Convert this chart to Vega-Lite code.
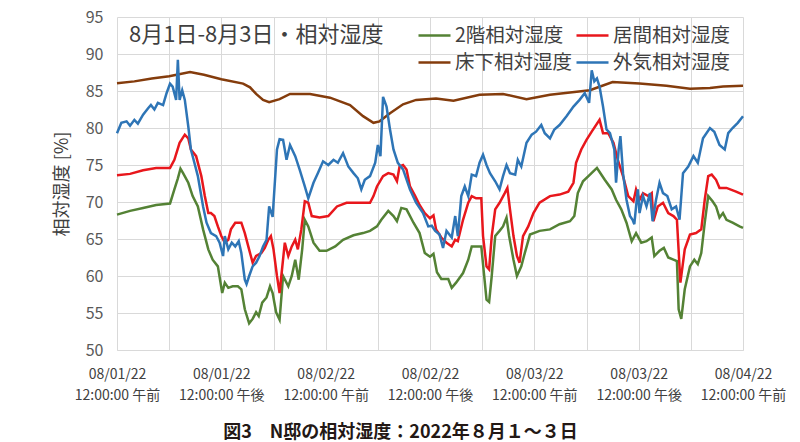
{
"$schema": "https://vega.github.io/schema/vega-lite/v6.json",
"autosize": "none",
"width": 626,
"height": 333,
"padding": {"left": 117, "top": 17, "right": 57, "bottom": 92},
"background": "white",
"config": {"font": "Noto Sans CJK JP", "view": {"stroke": null}},
"title": {"text": "8月1日-8月3日・相対湿度", "anchor": "start", "frame": "group", "orient": "top", "baseline": "middle", "offset": -19, "dy": 29, "dx": 12, "fontSize": 22, "fontWeight": "normal", "color": "#404040"},
"data": {"values": [
{"t":0,"s":"2階相対湿度","v":68.3},{"t":1.5,"s":"2階相対湿度","v":68.8},{"t":3,"s":"2階相対湿度","v":69.2},{"t":4.5,"s":"2階相対湿度","v":69.6},{"t":6.1,"s":"2階相対湿度","v":69.8},{"t":6.6,"s":"2階相対湿度","v":71.7},{"t":7.0,"s":"2階相対湿度","v":73.2},{"t":7.3,"s":"2階相対湿度","v":74.5},{"t":7.6,"s":"2階相対湿度","v":73.9},{"t":8.2,"s":"2階相対湿度","v":72.6},{"t":8.7,"s":"2階相対湿度","v":70.8},{"t":9.3,"s":"2階相対湿度","v":69.4},{"t":9.9,"s":"2階相対湿度","v":66.3},{"t":10.5,"s":"2階相対湿度","v":63.6},{"t":11.0,"s":"2階相対湿度","v":62.2},{"t":11.6,"s":"2階相対湿度","v":61.3},{"t":12.1,"s":"2階相対湿度","v":57.7},{"t":12.4,"s":"2階相対湿度","v":59.1},{"t":12.8,"s":"2階相対湿度","v":58.4},{"t":13.3,"s":"2階相対湿度","v":58.6},{"t":13.9,"s":"2階相対湿度","v":58.6},{"t":14.3,"s":"2階相対湿度","v":58.2},{"t":14.7,"s":"2階相対湿度","v":55.5},{"t":15.2,"s":"2階相対湿度","v":53.6},{"t":15.6,"s":"2階相対湿度","v":54.2},{"t":16.0,"s":"2階相対湿度","v":55.1},{"t":16.3,"s":"2階相対湿度","v":54.6},{"t":16.7,"s":"2階相対湿度","v":56.4},{"t":17.2,"s":"2階相対湿度","v":57.1},{"t":17.6,"s":"2階相対湿度","v":58.6},{"t":17.9,"s":"2階相対湿度","v":57.7},{"t":18.3,"s":"2階相対湿度","v":55.1},{"t":18.7,"s":"2階相対湿度","v":54.1},{"t":19.1,"s":"2階相対湿度","v":60.0},{"t":19.7,"s":"2階相対湿度","v":58.6},{"t":20.1,"s":"2階相対湿度","v":60.0},{"t":20.5,"s":"2階相対湿度","v":62.2},{"t":20.9,"s":"2階相対湿度","v":59.5},{"t":21.3,"s":"2階相対湿度","v":63.6},{"t":21.6,"s":"2階相対湿度","v":67.6},{"t":22.0,"s":"2階相対湿度","v":66.7},{"t":22.6,"s":"2階相対湿度","v":64.5},{"t":23.3,"s":"2階相対湿度","v":63.4},{"t":24.1,"s":"2階相対湿度","v":63.4},{"t":25.1,"s":"2階相対湿度","v":64.0},{"t":26.0,"s":"2階相対湿度","v":64.9},{"t":27.2,"s":"2階相対湿度","v":65.5},{"t":28.3,"s":"2階相対湿度","v":65.8},{"t":29.1,"s":"2階相対湿度","v":66.1},{"t":29.9,"s":"2階相対湿度","v":66.7},{"t":30.4,"s":"2階相対湿度","v":67.6},{"t":31.2,"s":"2階相対湿度","v":68.8},{"t":31.8,"s":"2階相対湿度","v":68.1},{"t":32.2,"s":"2階相対湿度","v":67.4},{"t":32.7,"s":"2階相対湿度","v":69.2},{"t":33.3,"s":"2階相対湿度","v":69.0},{"t":34.1,"s":"2階相対湿度","v":67.2},{"t":34.8,"s":"2階相対湿度","v":65.8},{"t":35.4,"s":"2階相対湿度","v":63.1},{"t":36.0,"s":"2階相対湿度","v":62.6},{"t":36.4,"s":"2階相対湿度","v":63.0},{"t":36.8,"s":"2階相対湿度","v":60.5},{"t":37.3,"s":"2階相対湿度","v":59.6},{"t":38.1,"s":"2階相対湿度","v":59.6},{"t":38.5,"s":"2階相対湿度","v":58.4},{"t":39.0,"s":"2階相対湿度","v":59.1},{"t":39.8,"s":"2階相対湿度","v":60.4},{"t":40.4,"s":"2階相対湿度","v":62.2},{"t":40.8,"s":"2階相対湿度","v":64.0},{"t":41.3,"s":"2階相対湿度","v":64.0},{"t":41.9,"s":"2階相対湿度","v":64.0},{"t":42.2,"s":"2階相対湿度","v":60.4},{"t":42.5,"s":"2階相対湿度","v":56.8},{"t":42.8,"s":"2階相対湿度","v":56.5},{"t":43.1,"s":"2階相対湿度","v":60.0},{"t":43.5,"s":"2階相対湿度","v":65.4},{"t":44.0,"s":"2階相対湿度","v":66.1},{"t":44.4,"s":"2階相対湿度","v":66.7},{"t":44.8,"s":"2階相対湿度","v":67.9},{"t":45.1,"s":"2階相対湿度","v":65.4},{"t":45.6,"s":"2階相対湿度","v":62.2},{"t":46.0,"s":"2階相対湿度","v":60.0},{"t":46.5,"s":"2階相対湿度","v":61.3},{"t":46.9,"s":"2階相対湿度","v":63.1},{"t":47.5,"s":"2階相対湿度","v":65.6},{"t":48.6,"s":"2階相対湿度","v":66.1},{"t":49.8,"s":"2階相対湿度","v":66.3},{"t":50.9,"s":"2階相対湿度","v":67.0},{"t":52.1,"s":"2階相対湿度","v":67.4},{"t":52.6,"s":"2階相対湿度","v":68.1},{"t":53.0,"s":"2階相対湿度","v":71.2},{"t":53.6,"s":"2階相対湿度","v":72.8},{"t":54.4,"s":"2階相対湿度","v":73.7},{"t":55.2,"s":"2階相対湿度","v":74.6},{"t":56.1,"s":"2階相対湿度","v":73.0},{"t":56.9,"s":"2階相対湿度","v":71.7},{"t":57.4,"s":"2階相対湿度","v":70.3},{"t":58.0,"s":"2階相対湿度","v":69.0},{"t":58.6,"s":"2階相対湿度","v":67.2},{"t":59.2,"s":"2階相対湿度","v":64.7},{"t":59.7,"s":"2階相対湿度","v":65.8},{"t":60.3,"s":"2階相対湿度","v":64.5},{"t":60.9,"s":"2階相対湿度","v":64.7},{"t":61.5,"s":"2階相対湿度","v":65.2},{"t":61.8,"s":"2階相対湿度","v":62.7},{"t":62.4,"s":"2階相対湿度","v":63.4},{"t":62.9,"s":"2階相対湿度","v":63.8},{"t":63.4,"s":"2階相対湿度","v":62.5},{"t":64.0,"s":"2階相対湿度","v":62.2},{"t":64.4,"s":"2階相対湿度","v":62.0},{"t":64.6,"s":"2階相対湿度","v":55.5},{"t":64.9,"s":"2階相対湿度","v":54.2},{"t":65.3,"s":"2階相対湿度","v":58.2},{"t":65.9,"s":"2階相対湿度","v":61.3},{"t":66.4,"s":"2階相対湿度","v":62.2},{"t":66.8,"s":"2階相対湿度","v":61.6},{"t":67.2,"s":"2階相対湿度","v":63.1},{"t":67.6,"s":"2階相対湿度","v":67.2},{"t":68.0,"s":"2階相対湿度","v":70.8},{"t":68.5,"s":"2階相対湿度","v":70.1},{"t":68.9,"s":"2階相対湿度","v":69.4},{"t":69.3,"s":"2階相対湿度","v":67.9},{"t":69.7,"s":"2階相対湿度","v":68.5},{"t":70.1,"s":"2階相対湿度","v":67.6},{"t":70.8,"s":"2階相対湿度","v":67.2},{"t":71.6,"s":"2階相対湿度","v":66.7},{"t":72.0,"s":"2階相対湿度","v":66.5},
{"t":0,"s":"居間相対湿度","v":73.6},{"t":1.5,"s":"居間相対湿度","v":73.8},{"t":3,"s":"居間相対湿度","v":74.3},{"t":4.5,"s":"居間相対湿度","v":74.6},{"t":6.1,"s":"居間相対湿度","v":74.6},{"t":6.6,"s":"居間相対湿度","v":75.7},{"t":7.2,"s":"居間相対湿度","v":78.0},{"t":7.8,"s":"居間相対湿度","v":79.1},{"t":8.2,"s":"居間相対湿度","v":78.6},{"t":8.5,"s":"居間相対湿度","v":77.1},{"t":9.1,"s":"居間相対湿度","v":76.2},{"t":9.7,"s":"居間相対湿度","v":73.5},{"t":10.1,"s":"居間相対湿度","v":70.8},{"t":10.5,"s":"居間相対湿度","v":68.5},{"t":10.8,"s":"居間相対湿度","v":68.5},{"t":11.2,"s":"居間相対湿度","v":68.1},{"t":11.6,"s":"居間相対湿度","v":66.7},{"t":12.0,"s":"居間相対湿度","v":65.4},{"t":12.4,"s":"居間相対湿度","v":64.5},{"t":12.8,"s":"居間相対湿度","v":64.9},{"t":13.1,"s":"居間相対湿度","v":66.3},{"t":13.6,"s":"居間相対湿度","v":67.2},{"t":14.3,"s":"居間相対湿度","v":67.2},{"t":14.7,"s":"居間相対湿度","v":65.8},{"t":15.1,"s":"居間相対湿度","v":64.0},{"t":15.6,"s":"居間相対湿度","v":61.8},{"t":16.0,"s":"居間相対湿度","v":62.7},{"t":16.6,"s":"居間相対湿度","v":63.1},{"t":17.0,"s":"居間相対湿度","v":63.8},{"t":17.4,"s":"居間相対湿度","v":64.9},{"t":17.7,"s":"居間相対湿度","v":65.4},{"t":18.0,"s":"居間相対湿度","v":63.6},{"t":18.4,"s":"居間相対湿度","v":60.0},{"t":18.7,"s":"居間相対湿度","v":57.7},{"t":18.9,"s":"居間相対湿度","v":60.0},{"t":19.3,"s":"居間相対湿度","v":64.5},{"t":19.7,"s":"居間相対湿度","v":62.7},{"t":20.1,"s":"居間相対湿度","v":64.0},{"t":20.5,"s":"居間相対湿度","v":64.9},{"t":20.8,"s":"居間相対湿度","v":63.6},{"t":21.2,"s":"居間相対湿度","v":66.3},{"t":21.6,"s":"居間相対湿度","v":70.1},{"t":22.0,"s":"居間相対湿度","v":69.9},{"t":22.4,"s":"居間相対湿度","v":68.1},{"t":23.3,"s":"居間相対湿度","v":67.9},{"t":24.3,"s":"居間相対湿度","v":68.1},{"t":25.3,"s":"居間相対湿度","v":69.4},{"t":26.4,"s":"居間相対湿度","v":69.9},{"t":27.6,"s":"居間相対湿度","v":69.9},{"t":29.1,"s":"居間相対湿度","v":69.9},{"t":29.5,"s":"居間相対湿度","v":70.8},{"t":29.9,"s":"居間相対湿度","v":72.1},{"t":30.6,"s":"居間相対湿度","v":73.5},{"t":31.2,"s":"居間相対湿度","v":73.9},{"t":31.8,"s":"居間相対湿度","v":73.7},{"t":32.2,"s":"居間相対湿度","v":72.8},{"t":32.5,"s":"居間相対湿度","v":74.8},{"t":32.9,"s":"居間相対湿度","v":75.0},{"t":33.3,"s":"居間相対湿度","v":74.4},{"t":33.7,"s":"居間相対湿度","v":72.1},{"t":34.3,"s":"居間相対湿度","v":70.8},{"t":34.8,"s":"居間相対湿度","v":69.6},{"t":35.4,"s":"居間相対湿度","v":68.5},{"t":36.0,"s":"居間相対湿度","v":67.8},{"t":36.4,"s":"居間相対湿度","v":68.2},{"t":36.7,"s":"居間相対湿度","v":66.3},{"t":37.3,"s":"居間相対湿度","v":65.2},{"t":37.9,"s":"居間相対湿度","v":64.5},{"t":38.5,"s":"居間相対湿度","v":64.0},{"t":38.9,"s":"居間相対湿度","v":64.9},{"t":39.2,"s":"居間相対湿度","v":64.7},{"t":39.8,"s":"居間相対湿度","v":67.6},{"t":40.4,"s":"居間相対湿度","v":69.9},{"t":40.8,"s":"居間相対湿度","v":70.8},{"t":41.3,"s":"居間相対湿度","v":70.5},{"t":41.9,"s":"居間相対湿度","v":70.5},{"t":42.1,"s":"居間相対湿度","v":65.4},{"t":42.5,"s":"居間相対湿度","v":61.3},{"t":42.8,"s":"居間相対湿度","v":60.9},{"t":43.1,"s":"居間相対湿度","v":65.4},{"t":43.5,"s":"居間相対湿度","v":69.0},{"t":44.0,"s":"居間相対湿度","v":69.9},{"t":44.6,"s":"居間相対湿度","v":71.2},{"t":44.9,"s":"居間相対湿度","v":71.9},{"t":45.2,"s":"居間相対湿度","v":69.0},{"t":45.6,"s":"居間相対湿度","v":65.4},{"t":46.0,"s":"居間相対湿度","v":62.7},{"t":46.3,"s":"居間相対湿度","v":61.8},{"t":46.7,"s":"居間相対湿度","v":65.4},{"t":47.3,"s":"居間相対湿度","v":66.7},{"t":47.9,"s":"居間相対湿度","v":68.5},{"t":48.6,"s":"居間相対湿度","v":69.9},{"t":49.8,"s":"居間相対湿度","v":70.8},{"t":50.9,"s":"居間相対湿度","v":71.0},{"t":51.9,"s":"居間相対湿度","v":71.4},{"t":52.5,"s":"居間相対湿度","v":72.6},{"t":52.8,"s":"居間相対湿度","v":75.3},{"t":53.4,"s":"居間相対湿度","v":77.1},{"t":54.0,"s":"居間相対湿度","v":78.4},{"t":54.6,"s":"居間相対湿度","v":79.5},{"t":55.5,"s":"居間相対湿度","v":81.1},{"t":55.9,"s":"居間相対湿度","v":79.3},{"t":56.5,"s":"居間相対湿度","v":79.3},{"t":57.1,"s":"居間相対湿度","v":78.0},{"t":57.6,"s":"居間相対湿度","v":75.7},{"t":58.2,"s":"居間相対湿度","v":73.5},{"t":58.8,"s":"居間相対湿度","v":70.8},{"t":59.4,"s":"居間相対湿度","v":70.1},{"t":59.7,"s":"居間相対湿度","v":71.7},{"t":60.1,"s":"居間相対湿度","v":70.3},{"t":60.5,"s":"居間相対湿度","v":71.2},{"t":61.1,"s":"居間相対湿度","v":70.8},{"t":61.5,"s":"居間相対湿度","v":71.2},{"t":61.7,"s":"居間相対湿度","v":67.4},{"t":62.2,"s":"居間相対湿度","v":69.4},{"t":62.8,"s":"居間相対湿度","v":69.9},{"t":63.4,"s":"居間相対湿度","v":68.5},{"t":64.0,"s":"居間相対湿度","v":68.1},{"t":64.4,"s":"居間相対湿度","v":67.6},{"t":64.8,"s":"居間相対湿度","v":59.1},{"t":65.3,"s":"居間相対湿度","v":63.6},{"t":65.9,"s":"居間相対湿度","v":65.6},{"t":66.6,"s":"居間相対湿度","v":65.8},{"t":67.2,"s":"居間相対湿度","v":66.3},{"t":67.6,"s":"居間相対湿度","v":70.3},{"t":68.0,"s":"居間相対湿度","v":73.5},{"t":68.4,"s":"居間相対湿度","v":73.7},{"t":68.9,"s":"居間相対湿度","v":73.0},{"t":69.3,"s":"居間相対湿度","v":71.9},{"t":70.1,"s":"居間相対湿度","v":71.9},{"t":71.2,"s":"居間相対湿度","v":71.4},{"t":72.0,"s":"居間相対湿度","v":71.0},
{"t":0,"s":"床下相対湿度","v":86.05},{"t":2,"s":"床下相対湿度","v":86.3},{"t":4,"s":"床下相対湿度","v":86.7},{"t":6,"s":"床下相対湿度","v":87.0},{"t":8.4,"s":"床下相対湿度","v":87.55},{"t":10,"s":"床下相対湿度","v":87.2},{"t":12,"s":"床下相対湿度","v":86.6},{"t":14.5,"s":"床下相対湿度","v":86.0},{"t":15.3,"s":"床下相対湿度","v":85.5},{"t":16.0,"s":"床下相対湿度","v":84.6},{"t":16.8,"s":"床下相対湿度","v":83.8},{"t":17.5,"s":"床下相対湿度","v":83.5},{"t":18.7,"s":"床下相対湿度","v":83.9},{"t":19.9,"s":"床下相対湿度","v":84.6},{"t":22.2,"s":"床下相対湿度","v":84.6},{"t":24.5,"s":"床下相対湿度","v":84.1},{"t":26.8,"s":"床下相対湿度","v":83.1},{"t":28.3,"s":"床下相対湿度","v":81.6},{"t":29.5,"s":"床下相対湿度","v":80.7},{"t":30.2,"s":"床下相対湿度","v":80.9},{"t":31.4,"s":"床下相対湿度","v":82.0},{"t":32.9,"s":"床下相対湿度","v":83.2},{"t":34.4,"s":"床下相対湿度","v":83.8},{"t":36.7,"s":"床下相対湿度","v":84.0},{"t":38.7,"s":"床下相対湿度","v":83.7},{"t":41.7,"s":"床下相対湿度","v":84.5},{"t":44.4,"s":"床下相対湿度","v":84.6},{"t":47.1,"s":"床下相対湿度","v":83.9},{"t":49.8,"s":"床下相対湿度","v":84.5},{"t":52.1,"s":"床下相対湿度","v":84.8},{"t":54.4,"s":"床下相対湿度","v":85.1},{"t":55.1,"s":"床下相対湿度","v":85.4},{"t":57.0,"s":"床下相対湿度","v":86.2},{"t":60.1,"s":"床下相対湿度","v":86.0},{"t":63.2,"s":"床下相対湿度","v":85.7},{"t":65.9,"s":"床下相対湿度","v":85.3},{"t":68.2,"s":"床下相対湿度","v":85.4},{"t":69.7,"s":"床下相対湿度","v":85.6},{"t":72,"s":"床下相対湿度","v":85.7},
{"t":0,"s":"外気相対湿度","v":79.3},{"t":0.5,"s":"外気相対湿度","v":80.7},{"t":1.1,"s":"外気相対湿度","v":80.9},{"t":1.5,"s":"外気相対湿度","v":80.3},{"t":2.0,"s":"外気相対湿度","v":81.1},{"t":2.4,"s":"外気相対湿度","v":80.6},{"t":3.0,"s":"外気相対湿度","v":81.8},{"t":3.6,"s":"外気相対湿度","v":82.7},{"t":3.9,"s":"外気相対湿度","v":83.1},{"t":4.3,"s":"外気相対湿度","v":82.5},{"t":4.7,"s":"外気相対湿度","v":83.4},{"t":5.3,"s":"外気相対湿度","v":83.1},{"t":5.7,"s":"外気相対湿度","v":84.7},{"t":6.1,"s":"外気相対湿度","v":86.0},{"t":6.4,"s":"外気相対湿度","v":85.6},{"t":6.8,"s":"外気相対湿度","v":83.8},{"t":7.0,"s":"外気相対湿度","v":89.2},{"t":7.2,"s":"外気相対湿度","v":83.8},{"t":7.5,"s":"外気相対湿度","v":85.1},{"t":7.8,"s":"外気相対湿度","v":83.8},{"t":8.2,"s":"外気相対湿度","v":80.2},{"t":8.5,"s":"外気相対湿度","v":77.1},{"t":8.9,"s":"外気相対湿度","v":75.3},{"t":9.3,"s":"外気相対湿度","v":73.5},{"t":9.9,"s":"外気相対湿度","v":69.4},{"t":10.3,"s":"外気相対湿度","v":67.2},{"t":10.8,"s":"外気相対湿度","v":65.8},{"t":11.4,"s":"外気相対湿度","v":65.4},{"t":11.8,"s":"外気相対湿度","v":64.5},{"t":12.2,"s":"外気相対湿度","v":62.7},{"t":12.4,"s":"外気相対湿度","v":65.4},{"t":12.8,"s":"外気相対湿度","v":63.6},{"t":13.2,"s":"外気相対湿度","v":64.5},{"t":13.6,"s":"外気相対湿度","v":64.0},{"t":14.0,"s":"外気相対湿度","v":64.7},{"t":14.3,"s":"外気相対湿度","v":63.1},{"t":14.7,"s":"外気相対湿度","v":59.5},{"t":14.9,"s":"外気相対湿度","v":58.9},{"t":15.2,"s":"外気相対湿度","v":60.0},{"t":15.6,"s":"外気相対湿度","v":61.3},{"t":16.0,"s":"外気相対湿度","v":61.8},{"t":16.4,"s":"外気相対湿度","v":62.7},{"t":16.8,"s":"外気相対湿度","v":64.0},{"t":17.2,"s":"外気相対湿度","v":64.9},{"t":17.5,"s":"外気相対湿度","v":69.4},{"t":17.9,"s":"外気相対湿度","v":68.0},{"t":18.4,"s":"外気相対湿度","v":77.1},{"t":18.7,"s":"外気相対湿度","v":78.5},{"t":19.1,"s":"外気相対湿度","v":78.4},{"t":19.5,"s":"外気相対湿度","v":75.7},{"t":19.9,"s":"外気相対湿度","v":77.7},{"t":20.5,"s":"外気相対湿度","v":76.2},{"t":21.0,"s":"外気相対湿度","v":74.4},{"t":21.6,"s":"外気相対湿度","v":72.1},{"t":22.0,"s":"外気相対湿度","v":70.5},{"t":22.6,"s":"外気相対湿度","v":72.6},{"t":23.1,"s":"外気相対湿度","v":73.9},{"t":23.7,"s":"外気相対湿度","v":75.5},{"t":24.3,"s":"外気相対湿度","v":75.0},{"t":24.9,"s":"外気相対湿度","v":75.7},{"t":25.4,"s":"外気相対湿度","v":75.3},{"t":26.0,"s":"外気相対湿度","v":76.6},{"t":26.6,"s":"外気相対湿度","v":74.8},{"t":27.2,"s":"外気相対湿度","v":73.9},{"t":27.7,"s":"外気相対湿度","v":73.2},{"t":28.1,"s":"外気相対湿度","v":71.7},{"t":28.5,"s":"外気相対湿度","v":73.0},{"t":29.1,"s":"外気相対湿度","v":73.5},{"t":29.7,"s":"外気相対湿度","v":75.3},{"t":30.0,"s":"外気相対湿度","v":77.7},{"t":30.3,"s":"外気相対湿度","v":76.2},{"t":30.6,"s":"外気相対湿度","v":84.2},{"t":31.0,"s":"外気相対湿度","v":82.9},{"t":31.4,"s":"外気相対湿度","v":79.8},{"t":31.8,"s":"外気相対湿度","v":77.1},{"t":32.3,"s":"外気相対湿度","v":75.3},{"t":32.9,"s":"外気相対湿度","v":74.4},{"t":33.7,"s":"外気相対湿度","v":71.7},{"t":34.4,"s":"外気相対湿度","v":69.9},{"t":35.2,"s":"外気相対湿度","v":68.5},{"t":35.8,"s":"外気相対湿度","v":66.7},{"t":36.2,"s":"外気相対湿度","v":66.8},{"t":36.6,"s":"外気相対湿度","v":66.1},{"t":37.1,"s":"外気相対湿度","v":65.6},{"t":37.5,"s":"外気相対湿度","v":63.8},{"t":37.9,"s":"外気相対湿度","v":66.1},{"t":38.5,"s":"外気相対湿度","v":65.2},{"t":38.9,"s":"外気相対湿度","v":68.1},{"t":39.2,"s":"外気相対湿度","v":65.4},{"t":39.6,"s":"外気相対湿度","v":70.8},{"t":40.0,"s":"外気相対湿度","v":72.1},{"t":40.4,"s":"外気相対湿度","v":70.8},{"t":40.8,"s":"外気相対湿度","v":73.7},{"t":41.3,"s":"外気相対湿度","v":73.5},{"t":41.7,"s":"外気相対湿度","v":75.3},{"t":42.1,"s":"外気相対湿度","v":76.4},{"t":42.5,"s":"外気相対湿度","v":75.0},{"t":42.9,"s":"外気相対湿度","v":73.9},{"t":43.5,"s":"外気相対湿度","v":72.8},{"t":44.0,"s":"外気相対湿度","v":71.7},{"t":44.4,"s":"外気相対湿度","v":73.5},{"t":44.8,"s":"外気相対湿度","v":75.0},{"t":45.2,"s":"外気相対湿度","v":73.9},{"t":45.8,"s":"外気相対湿度","v":73.7},{"t":46.1,"s":"外気相対湿度","v":75.7},{"t":46.5,"s":"外気相対湿度","v":74.8},{"t":47.1,"s":"外気相対湿度","v":78.0},{"t":47.7,"s":"外気相対湿度","v":79.1},{"t":48.2,"s":"外気相対湿度","v":79.5},{"t":48.8,"s":"外気相対湿度","v":80.4},{"t":49.2,"s":"外気相対湿度","v":79.3},{"t":49.8,"s":"外気相対湿度","v":78.6},{"t":50.3,"s":"外気相対湿度","v":79.8},{"t":50.9,"s":"外気相対湿度","v":80.4},{"t":51.7,"s":"外気相対湿度","v":81.6},{"t":52.5,"s":"外気相対湿度","v":82.9},{"t":53.2,"s":"外気相対湿度","v":83.8},{"t":53.8,"s":"外気相対湿度","v":84.7},{"t":54.3,"s":"外気相対湿度","v":83.4},{"t":54.6,"s":"外気相対湿度","v":87.8},{"t":54.9,"s":"外気相対湿度","v":86.3},{"t":55.2,"s":"外気相対湿度","v":86.7},{"t":55.5,"s":"外気相対湿度","v":85.6},{"t":55.9,"s":"外気相対湿度","v":82.9},{"t":56.3,"s":"外気相対湿度","v":79.8},{"t":56.7,"s":"外気相対湿度","v":79.3},{"t":57.0,"s":"外気相対湿度","v":78.0},{"t":57.2,"s":"外気相対湿度","v":77.1},{"t":57.4,"s":"外気相対湿度","v":72.6},{"t":57.7,"s":"外気相対湿度","v":77.1},{"t":57.9,"s":"外気相対湿度","v":78.9},{"t":58.2,"s":"外気相対湿度","v":73.9},{"t":58.6,"s":"外気相対湿度","v":70.3},{"t":59.0,"s":"外気相対湿度","v":68.1},{"t":59.3,"s":"外気相対湿度","v":67.6},{"t":59.5,"s":"外気相対湿度","v":67.0},{"t":59.9,"s":"外気相対湿度","v":71.7},{"t":60.1,"s":"外気相対湿度","v":68.5},{"t":60.5,"s":"外気相対湿度","v":70.8},{"t":60.9,"s":"外気相対湿度","v":69.4},{"t":61.3,"s":"外気相対湿度","v":71.2},{"t":61.6,"s":"外気相対湿度","v":67.4},{"t":62.0,"s":"外気相対湿度","v":70.3},{"t":62.4,"s":"外気相対湿度","v":72.6},{"t":62.8,"s":"外気相対湿度","v":71.2},{"t":63.3,"s":"外気相対湿度","v":70.8},{"t":63.8,"s":"外気相対湿度","v":69.0},{"t":64.3,"s":"外気相対湿度","v":69.4},{"t":64.7,"s":"外気相対湿度","v":67.6},{"t":65.1,"s":"外気相対湿度","v":73.9},{"t":65.7,"s":"外気相対湿度","v":74.8},{"t":66.3,"s":"外気相対湿度","v":76.2},{"t":66.8,"s":"外気相対湿度","v":75.3},{"t":67.4,"s":"外気相対湿度","v":78.6},{"t":68.2,"s":"外気相対湿度","v":80.0},{"t":68.7,"s":"外気相対湿度","v":79.5},{"t":69.3,"s":"外気相対湿度","v":77.7},{"t":69.9,"s":"外気相対湿度","v":77.1},{"t":70.3,"s":"外気相対湿度","v":79.3},{"t":70.8,"s":"外気相対湿度","v":80.0},{"t":71.4,"s":"外気相対湿度","v":80.7},{"t":72.0,"s":"外気相対湿度","v":81.6}
]},
"mark": {"type": "line", "strokeWidth": 2.5, "interpolate": "linear"},
"encoding": {
  "x": {"field": "t", "type": "quantitative", "scale": {"domain": [0, 72], "nice": false, "zero": false},
    "axis": {"values": [0,6,12,18,24,30,36,42,48,54,60,66,72], "grid": true, "gridColor": "#D9D9D9", "gridWidth": 1, "ticks": false, "domainColor": "#D9D9D9", "labelFlush": false, "labelFontSize": 14, "labelColor": "#404040", "labelPadding": 17, "labelLineHeight": 21, "labelBaseline": "top",
      "labelExpr": "datum.value % 12 == 0 ? ['08/0' + (floor(datum.value/24)+1) + '/22', datum.value % 24 == 0 ? '12:00:00 午前' : '12:00:00 午後'] : ''",
      "title": "図3　N邸の相対湿度：2022年８月１～３日", "titleFontSize": 18, "titleFontWeight": "bold", "titleColor": "#231815", "titleX": 283, "titleY": 82, "titleAlign": "center", "titleBaseline": "middle"}},
  "y": {"field": "v", "type": "quantitative", "scale": {"domain": [50, 95], "nice": false, "zero": false},
    "axis": {"values": [50,55,60,65,70,75,80,85,90,95], "grid": true, "gridColor": "#D9D9D9", "gridWidth": 1, "ticks": false, "domain": false, "labelFontSize": 16, "labelColor": "#595959", "labelPadding": 14,
      "title": "相対湿度 [%]", "titleFontSize": 18, "titleFontWeight": "normal", "titleColor": "#404040", "titlePadding": 14}},
  "color": {"field": "s", "type": "nominal",
    "scale": {"domain": ["2階相対湿度", "居間相対湿度", "床下相対湿度", "外気相対湿度"], "range": ["#548235", "#E8171C", "#843C0C", "#2E75B6"]},
    "legend": {"orient": "none", "legendX": 300, "legendY": 1, "direction": "horizontal", "columns": 2, "title": null, "symbolType": "stroke", "symbolSize": 1024, "symbolStrokeWidth": 2.5, "labelFontSize": 19.5, "labelColor": "#404040", "labelOffset": 3, "columnPadding": -2, "rowPadding": -1}}
}
}
